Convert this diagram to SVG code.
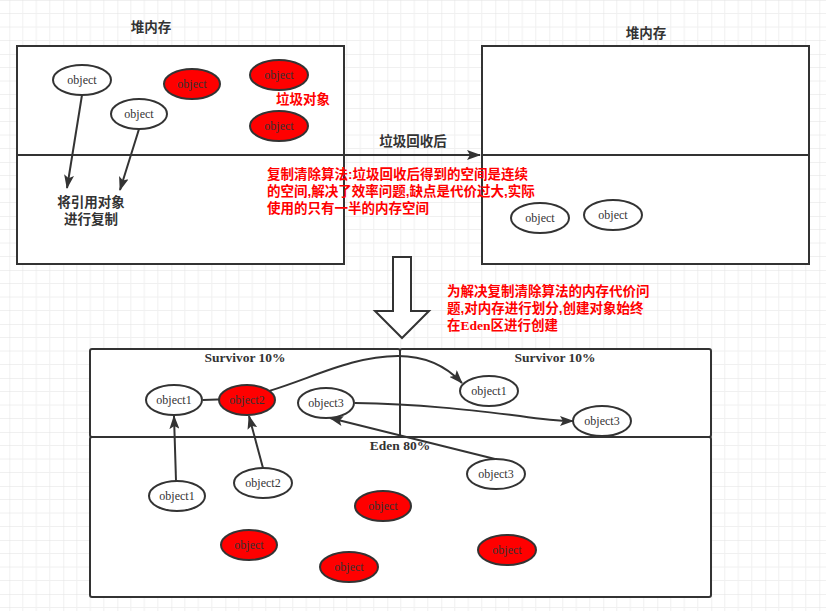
<svg xmlns="http://www.w3.org/2000/svg" width="826" height="611" viewBox="0 0 826 611">
<defs>
<pattern id="grid" patternUnits="userSpaceOnUse" x="9.3" y="0" width="54" height="54">
<path d="M13.5 0V54M27 0V54M40.5 0V54M0 13.5H54M0 27H54M0 40.5H54" stroke="#f0f0f0" stroke-width="1" fill="none"/>
<path d="M0 0V54M0 0H54" stroke="#e2e2e2" stroke-width="1" fill="none"/>
</pattern>
<marker id="arr2" markerWidth="14" markerHeight="10" refX="13" refY="5" orient="auto" markerUnits="userSpaceOnUse" viewBox="0 0 14 10">
<path d="M0 0L14 5L0 10L3 5Z" fill="#333"/>
</marker>
</defs>
<style>
.box{fill:#fff;stroke:#333;stroke-width:2}
.line{fill:none;stroke:#333;stroke-width:2}
.ow{fill:#fff;stroke:#333;stroke-width:2}
.or{fill:#f00;stroke:#333;stroke-width:2}
.ot{font-family:"Liberation Serif",serif;font-size:12px;fill:#333;text-anchor:middle}
.cjk{font-family:"Liberation Sans","Noto Sans CJK SC",sans-serif;font-size:13.5px;font-weight:bold;fill:#333}
.red{font-family:"Liberation Sans","Noto Sans CJK SC",sans-serif;font-size:13.5px;font-weight:bold;fill:#f00}
.redserif{font-family:"Liberation Serif","Noto Sans CJK SC",serif;font-weight:bold}
.lab{font-family:"Liberation Serif",serif;font-size:13.5px;font-weight:bold;fill:#333;text-anchor:middle}
.conn{fill:none;stroke:#333;stroke-width:2;marker-end:url(#arr2)}
</style>
<rect width="826" height="611" fill="#fff"/>
<rect width="826" height="611" fill="url(#grid)"/>

<g id="heap-left">
<rect class="box" x="17" y="46" width="327" height="218"/>
<line class="line" x1="17" y1="155" x2="344" y2="155"/>
<text class="cjk" x="151" y="32" text-anchor="middle">堆内存</text>
</g>
<g id="heap-right">
<rect class="box" x="482" y="46" width="327" height="218"/>
<line class="line" x1="482" y1="155" x2="809" y2="155"/>
<text class="cjk" x="646" y="38" text-anchor="middle">堆内存</text>
</g>

<g id="l-obj1"><ellipse class="ow" cx="82" cy="80" rx="29" ry="15"/><text class="ot" x="82" y="84">object</text></g>
<g id="l-obj2"><ellipse class="ow" cx="139" cy="114" rx="28" ry="15"/><text class="ot" x="139" y="118">object</text></g>
<g id="l-red1"><ellipse class="or" cx="192" cy="84" rx="28" ry="15"/><text class="ot" x="192" y="88">object</text></g>
<g id="l-red2"><ellipse class="or" cx="279" cy="75" rx="29" ry="15"/><text class="ot" x="279" y="79">object</text></g>
<g id="l-red3"><ellipse class="or" cx="279" cy="126" rx="29" ry="15"/><text class="ot" x="279" y="130">object</text></g>
<g id="garbage-label"><text class="red" x="303" y="104" text-anchor="middle">垃圾对象</text></g>
<g id="copy-label">
<text class="cjk" x="91" y="207" text-anchor="middle">将引用对象</text>
<text class="cjk" x="91" y="224" text-anchor="middle">进行复制</text>
</g>

<g id="r-obj1"><ellipse class="ow" cx="540" cy="218" rx="29" ry="15"/><text class="ot" x="540" y="222">object</text></g>
<g id="r-obj2"><ellipse class="ow" cx="613" cy="215" rx="29" ry="15"/><text class="ot" x="613" y="219">object</text></g>

<g id="note1">
<text class="red" x="267" y="179">复制清除算法:垃圾回收后得到的空间是连续</text>
<text class="red" x="267" y="196">的空间,解决了效率问题,缺点是代价过大,实际</text>
<text class="red" x="267" y="213">使用的只有一半的内存空间</text>
</g>
<g id="gc-label"><text class="cjk" x="413" y="146" text-anchor="middle">垃圾回收后</text></g>

<g id="down-arrow">
<path d="M393 257H411V311H429L402 338L375 311H393Z" fill="#fff" stroke="#333" stroke-width="2" stroke-linejoin="miter"/>
</g>

<g id="note2">
<text class="red" x="447" y="296">为解决复制清除算法的内存代价问</text>
<text class="red" x="447" y="313">题,对内存进行划分,创建对象始终</text>
<text class="red" x="447" y="330">在<tspan class="redserif">Eden</tspan>区进行创建</text>
</g>

<g id="survivor-left">
<rect class="box" x="90" y="349" width="310" height="88" rx="2"/>
<text class="lab" x="245" y="362">Survivor 10%</text>
</g>
<g id="survivor-right">
<rect class="box" x="400" y="349" width="311" height="88" rx="2"/>
<text class="lab" x="555" y="362">Survivor 10%</text>
</g>
<g id="eden">
<rect class="box" x="90" y="437" width="621" height="160" rx="2"/>
<text class="lab" x="400" y="450">Eden 80%</text>
</g>

<g id="connectors">
<line class="conn" x1="82" y1="95" x2="67" y2="188"/>
<line class="conn" x1="139" y1="129" x2="120" y2="190"/>
<line class="conn" x1="344" y1="155" x2="480" y2="155"/>
<line class="conn" x1="176" y1="481" x2="174" y2="416"/>
<line class="conn" x1="263" y1="468" x2="249" y2="416"/>
<line class="conn" x1="495" y1="459" x2="330" y2="418"/>
<path class="conn" d="M203 400L232 399C290 392 340 356 398 356C428 356 448 368 462 383"/>
<path class="conn" d="M355 403C420 404 470 410 520 416C540 419 555 421 573 421"/>
</g>

<g id="s-obj1"><ellipse class="ow" cx="174" cy="400" rx="28" ry="15"/><text class="ot" x="174" y="404">object1</text></g>
<g id="s-obj2"><ellipse class="or" cx="247" cy="400" rx="28" ry="15"/><text class="ot" x="247" y="404">object2</text></g>
<g id="s-obj3"><ellipse class="ow" cx="326" cy="403" rx="28" ry="15"/><text class="ot" x="326" y="407">object3</text></g>
<g id="s2-obj1"><ellipse class="ow" cx="489" cy="391" rx="29" ry="15"/><text class="ot" x="489" y="395">object1</text></g>
<g id="s2-obj3"><ellipse class="ow" cx="602" cy="421" rx="29" ry="15"/><text class="ot" x="602" y="425">object3</text></g>
<g id="e-obj1"><ellipse class="ow" cx="177" cy="496" rx="28" ry="15"/><text class="ot" x="177" y="500">object1</text></g>
<g id="e-obj2"><ellipse class="ow" cx="263" cy="483" rx="29" ry="15"/><text class="ot" x="263" y="487">object2</text></g>
<g id="e-obj3"><ellipse class="ow" cx="496" cy="474" rx="29" ry="15"/><text class="ot" x="496" y="478">object3</text></g>
<g id="e-red1"><ellipse class="or" cx="383" cy="506" rx="28" ry="15"/><text class="ot" x="383" y="510">object</text></g>
<g id="e-red2"><ellipse class="or" cx="249" cy="545" rx="28" ry="15"/><text class="ot" x="249" y="549">object</text></g>
<g id="e-red3"><ellipse class="or" cx="349" cy="567" rx="29" ry="15"/><text class="ot" x="349" y="571">object</text></g>
<g id="e-red4"><ellipse class="or" cx="507" cy="550" rx="29" ry="15"/><text class="ot" x="507" y="554">object</text></g>
</svg>
